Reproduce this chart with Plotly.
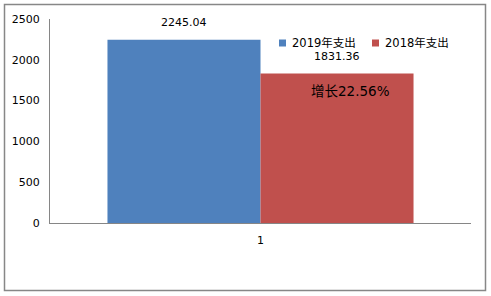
import plotly.graph_objects as go

categories = ["1"]
series_names = ["2019年支出", "2018年支出"]
values_2019 = [2245.04]
values_2018 = [1831.36]
growth_text = "增长22.56%"
colors = ["#4F81BD", "#C0504D"]

W, H = 491, 296
ml, mr, mt, mb = 50, 20, 19, 73
pw, ph = W - ml - mr, H - mt - mb

font_family = "DejaVu Sans, Noto Sans CJK SC, sans-serif"

def px_to_paper_x(px):
    return (px - ml) / pw

def px_to_paper_y(py):
    return (H - mb - py) / ph

fig = go.Figure()
for name, vals, col in zip(series_names, [values_2019, values_2018], colors):
    fig.add_trace(go.Bar(x=categories, y=vals, name=name, marker=dict(color=col, line=dict(width=0))))

fig.update_layout(
    width=W, height=H,
    margin=dict(l=ml, r=mr, t=mt, b=mb, autoexpand=False),
    paper_bgcolor="white", plot_bgcolor="white",
    barmode="group", bargap=0.273, bargroupgap=0,
    font=dict(family=font_family, size=11, color="#000000"),
    showlegend=False,
    xaxis=dict(type="category", range=[-0.5, len(categories) - 0.5], showline=True,
               linecolor="#868686", linewidth=1, showgrid=False,
               ticks="", ticklabelstandoff=7),
    yaxis=dict(range=[0, 2500], dtick=500, showline=True, linecolor="#868686", linewidth=1,
               showgrid=False, zeroline=False, ticks="", ticklabelstandoff=7),
)

# data labels
offsets = [-76.5, 76.5]
for vals, off in zip([values_2019, values_2018], offsets):
    for i, v in enumerate(vals):
        fig.add_annotation(x=i, y=v, text=f"{v:.2f}", showarrow=False, xshift=off,
                           yanchor="bottom", yshift=9, font=dict(size=11))

# growth annotation
fig.add_annotation(x=0, y=values_2018[0], text=growth_text, showarrow=False,
                   xshift=90, yanchor="middle", yshift=-17, font=dict(size=13.5))

# manual legend
legend_x = [279, 372]
legend_y = 43
for name, col, lx in zip(series_names, colors, legend_x):
    fig.add_shape(type="rect", xref="paper", yref="paper",
                  x0=px_to_paper_x(lx), x1=px_to_paper_x(lx + 7),
                  y0=px_to_paper_y(legend_y + 3.5), y1=px_to_paper_y(legend_y - 3.5),
                  line=dict(width=0), fillcolor=col)
    fig.add_annotation(xref="paper", yref="paper", x=px_to_paper_x(lx + 11), y=px_to_paper_y(legend_y),
                       xanchor="left", yanchor="middle", text=name, showarrow=False,
                       font=dict(size=11.5))

# outer border
fig.add_shape(type="rect", xref="paper", yref="paper",
              x0=px_to_paper_x(4.5), x1=px_to_paper_x(485.5),
              y0=px_to_paper_y(290.5), y1=px_to_paper_y(4.5),
              line=dict(color="#878787", width=1.5), fillcolor="rgba(0,0,0,0)", layer="below")

fig.write_html("out.html")
